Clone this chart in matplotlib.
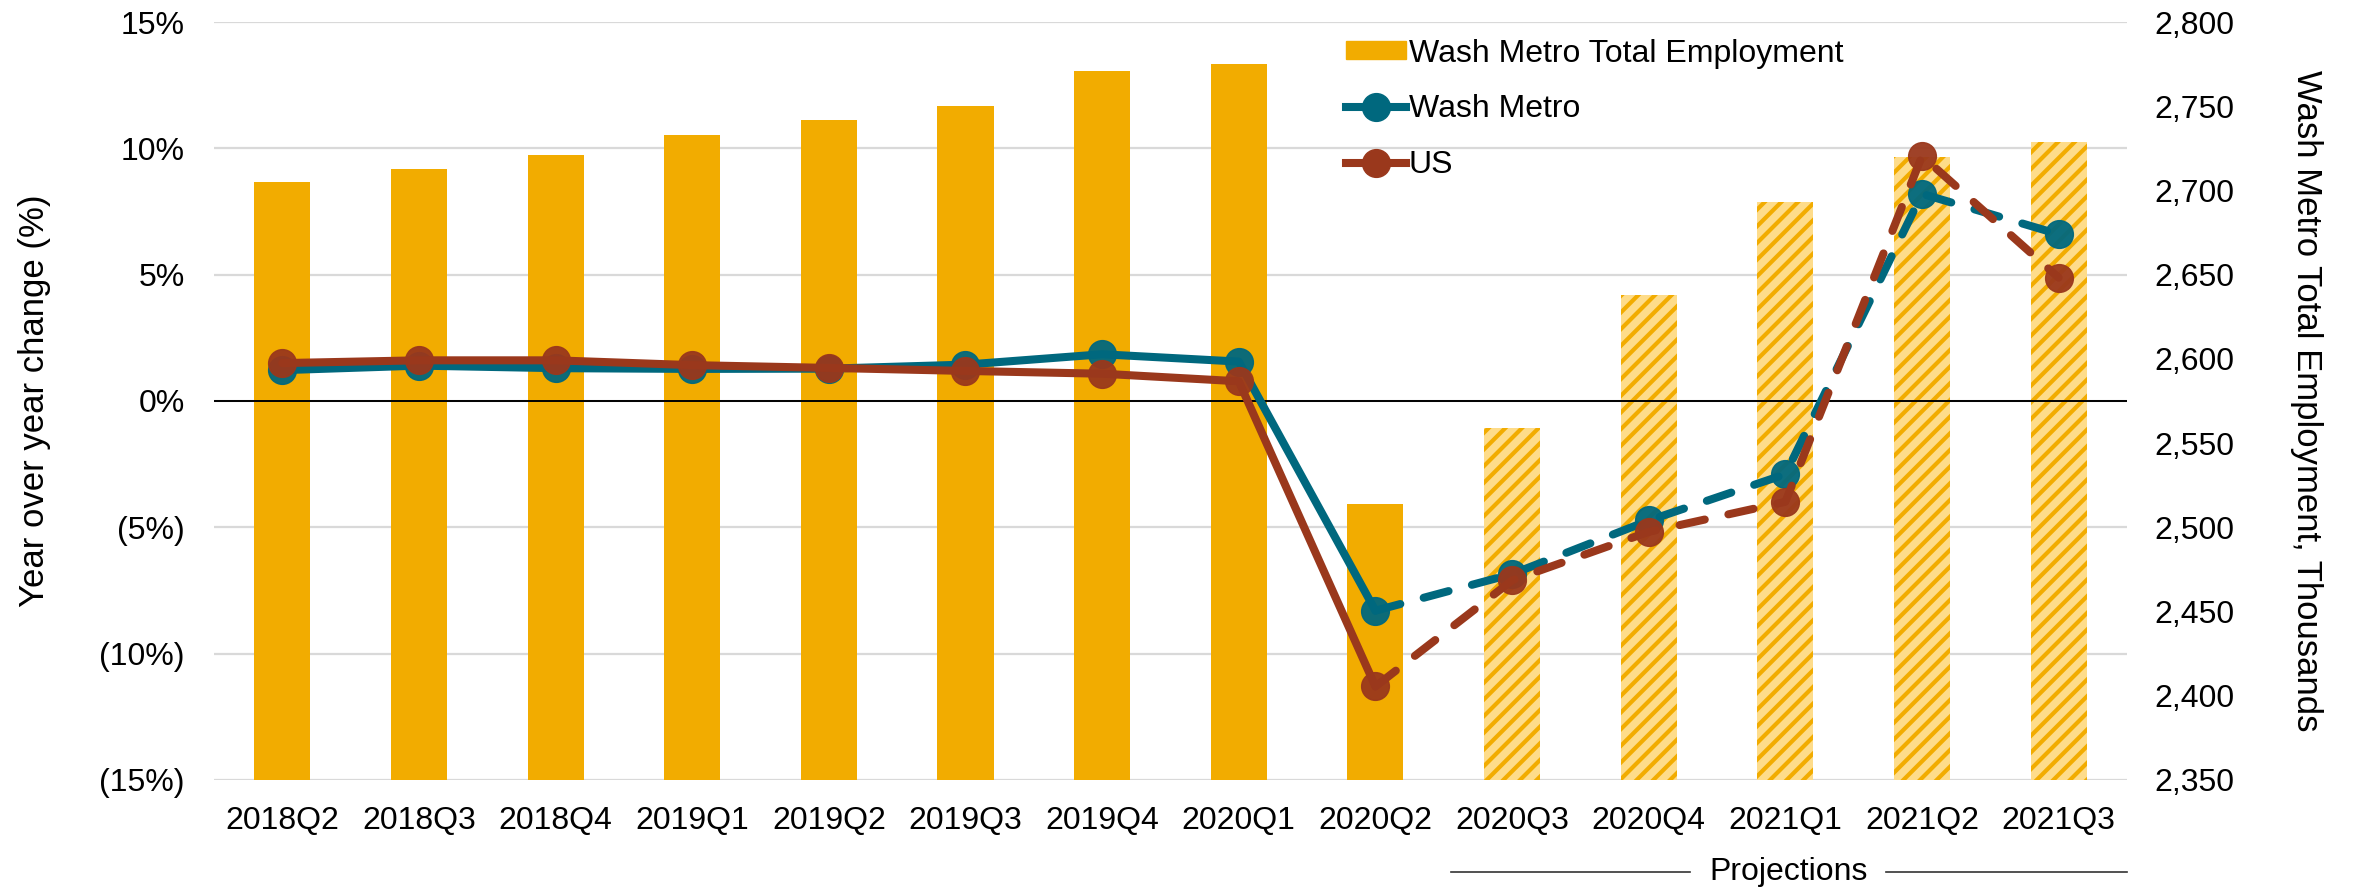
import numpy as np
import matplotlib.pyplot as plt
import matplotlib.transforms as mtransforms
from matplotlib.ticker import FuncFormatter
from matplotlib.lines import Line2D
from matplotlib.patches import Patch

quarters = ['2018Q2', '2018Q3', '2018Q4', '2019Q1', '2019Q2', '2019Q3', '2019Q4',
            '2020Q1', '2020Q2', '2020Q3', '2020Q4', '2021Q1', '2021Q2', '2021Q3']
# Wash Metro Total Employment, thousands (right axis)
employment = [2705, 2713, 2721, 2733, 2742, 2750, 2771, 2775, 2514, 2559, 2638, 2693, 2720, 2729]
# year over year change, % (left axis)
wash_metro = [1.22, 1.40, 1.30, 1.27, 1.28, 1.44, 1.85, 1.56, -8.3, -6.85, -4.73, -2.9, 8.2, 6.6]
us = [1.50, 1.61, 1.61, 1.42, 1.31, 1.19, 1.08, 0.78, -11.3, -7.1, -5.18, -3.99, 9.7, 4.88]
n_actual = 9  # 2018Q2 .. 2020Q2 are actuals, the rest projections

bar_col = '#F2AC00'
light_col = '#FEDC8A'
teal = '#00687E'
rust = '#9A381C'

plt.rcParams['font.family'] = ['Liberation Sans', 'DejaVu Sans']
plt.rcParams['hatch.linewidth'] = 3.0

fig = plt.figure(figsize=(23.56, 8.92), dpi=100)
ax = fig.add_axes([0.0908, 0.1256, 0.812, 0.8497])
ax2 = ax.twinx()
ax3 = ax.twinx()
ax.set_zorder(1)
ax2.set_zorder(2)
ax3.set_zorder(3)

x = np.arange(len(quarters))
for a in (ax, ax2, ax3):
	a.set_xlim(-0.5, len(quarters)-0.5)
	for s in a.spines.values():
		s.set_visible(False)

# left axis: ticks + gridlines
def pct(v, pos):
	if v < 0:
		return '(%d%%)' % abs(v)
	return '%d%%' % v
ax.set_ylim(-15, 15)
ax.set_yticks(np.arange(-15, 16, 5))
ax.yaxis.set_major_formatter(FuncFormatter(pct))
ax.grid(axis='y', color='#D9D9D9', lw=1.6)
ax.set_xticks(x, quarters)
ax.tick_params(length=0, labelsize=23)
ax.tick_params(axis='y', pad=21)
ax.tick_params(axis='x', pad=19)
ax.set_ylabel('Year over year change (%)', fontsize=25)
ax.yaxis.set_label_coords(-0.085, 0.5)

# right axis: bars
ax2.bar(x[:n_actual], employment[:n_actual], width=0.41, color=bar_col)
ax2.bar(x[n_actual:], employment[n_actual:], width=0.41, facecolor=light_col,
	edgecolor=bar_col, hatch='//', linewidth=0)
ax2.set_ylim(2350, 2800)
ax2.set_yticks(np.arange(2350, 2801, 50))
ax2.yaxis.set_major_formatter(FuncFormatter(lambda v, p: '{:,.0f}'.format(v)))
ax2.tick_params(length=0, labelsize=23, pad=20)
ax2.set_ylabel('Wash Metro Total Employment, Thousands', fontsize=25, rotation=270, va='bottom')
ax2.yaxis.set_label_coords(1.085, 0.5)

# lines on top
ax3.set_ylim(-15, 15)
ax3.set_yticks([])
ax3.axhline(0, color='black', lw=1.4)
lw = 5.8
for vals, col in ((wash_metro, teal), (us, rust)):
	ax3.plot(x[:n_actual], vals[:n_actual], color=col, lw=lw, solid_capstyle='round')
	ax3.plot(x[n_actual-1:], vals[n_actual-1:], color=col, lw=lw, ls=(0, (3.2, 3.0)),
		dash_capstyle='round')
	ax3.plot(x, vals, ls='none', marker='o', ms=20, mfc=col, mec=col, alpha=0.95)

handles = [Patch(color=bar_col, label='Wash Metro Total Employment'),
	Line2D([], [], color=teal, lw=lw, marker='o', ms=20, label='Wash Metro'),
	Line2D([], [], color=rust, lw=lw, marker='o', ms=20, label='US')]
ax3.legend(handles=handles, loc='upper left', bbox_to_anchor=(0.592, 0.978), frameon=False,
	fontsize=23, handlelength=1.85, handleheight=0.5, handletextpad=0.1, labelspacing=0.8,
	borderpad=0, borderaxespad=0)

# projections bracket under the axis
trans = mtransforms.blended_transform_factory(ax.transData, ax.transAxes)
ax.plot([8.55, 10.3], [-0.121, -0.121], transform=trans, clip_on=False, color='#333333', lw=1.2)
ax.plot([11.74, 13.5], [-0.121, -0.121], transform=trans, clip_on=False, color='#333333', lw=1.2)
ax.text(11.02, -0.121, 'Projections', transform=trans, ha='center', va='center', fontsize=23)

fig.savefig('out.png', dpi=100, facecolor='white')
